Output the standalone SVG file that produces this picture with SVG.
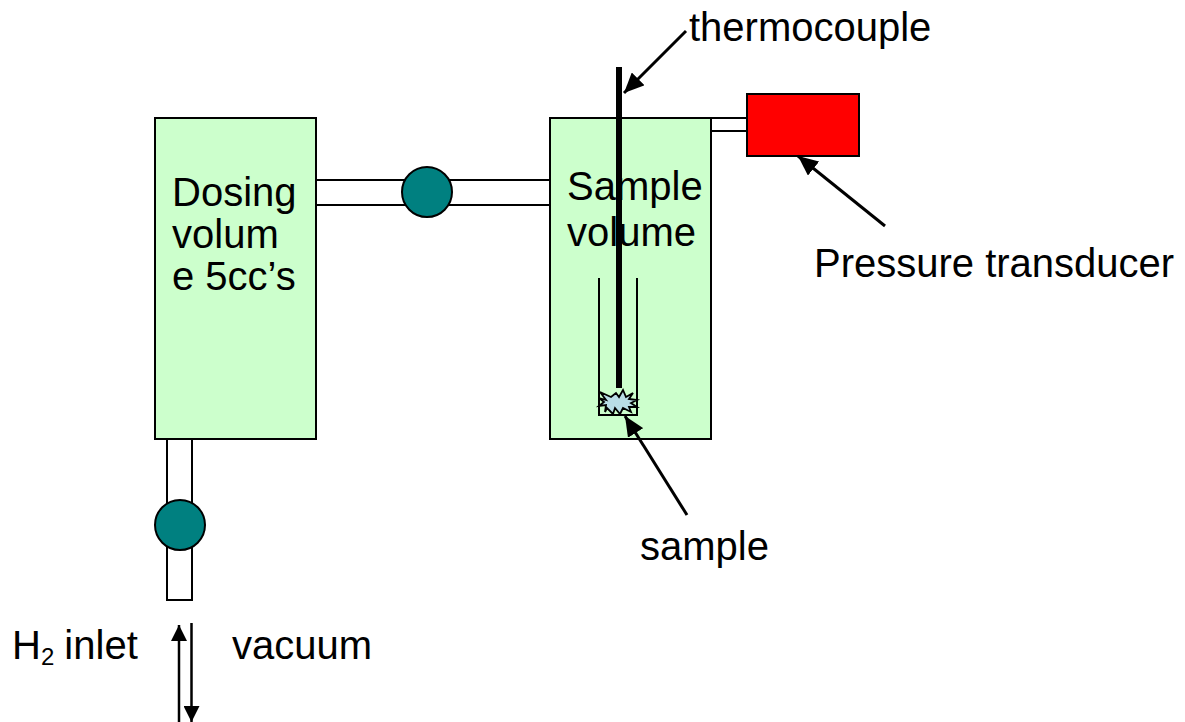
<svg xmlns="http://www.w3.org/2000/svg" width="1185" height="722" viewBox="0 0 1185 722">
<style>
.box{fill:#ccffcc;stroke:#000;stroke-width:2}
.pipe{fill:#fff;stroke:#000;stroke-width:2}
.valve{fill:#008080;stroke:#000;stroke-width:2}
.ln{fill:none;stroke:#000;stroke-width:2}
.ar{fill:none;stroke:#000;stroke-width:3;marker-end:url(#ah)}
.av{fill:none;stroke:#000;stroke-width:2.5;marker-end:url(#ahv)}
text{font-family:"Liberation Sans",Arial,sans-serif;font-size:40px;fill:#000}
</style>
<defs>
<marker id="ah" markerUnits="userSpaceOnUse" markerWidth="22" markerHeight="18" refX="20" refY="9" orient="auto"><path d="M0,0L20,9L0,18Z" fill="#000"/></marker>
<marker id="ahv" markerUnits="userSpaceOnUse" markerWidth="18" markerHeight="16" refX="16" refY="8" orient="auto"><path d="M0,0L16,8L0,16Z" fill="#000"/></marker>
</defs>
<rect width="1185" height="722" fill="#fff"/>
<g id="pipes">
<rect class="pipe" x="315" y="180" width="235" height="25"/>
<rect class="pipe" x="711" y="118" width="37" height="13"/>
<rect class="pipe" x="167" y="439" width="25" height="161"/>
</g>
<g id="dosing-volume">
<rect class="box" x="155" y="118" width="161" height="321"/>
<text x="172" y="206">Dosing</text>
<text x="172" y="248">volum</text>
<text x="172" y="290">e 5cc’s</text>
</g>
<g id="sample-volume">
<rect class="box" x="550" y="118" width="161" height="321"/>
<text x="567" y="200">Sample</text>
<text x="567" y="246">volume</text>
<path class="ln" d="M599,278V415H637V278"/>
</g>
<g id="sample">
<path d="M600,392L611,397L616,393L619,397L623,390L626,397L633,393L629,399L637,400L631,403L637,407L629,407L631,412L623,408L620,414L615,408L613,414L607,408L605,412L606,405L599,406L604,402L599,398L606,400Z" fill="#b9dde6" stroke="#000" stroke-width="1.8"/>
</g>
<g id="thermocouple-rod">
<rect x="616" y="67" width="6" height="321" fill="#000"/>
</g>
<g id="pressure-transducer">
<rect x="747" y="94" width="112" height="62" fill="#f00" stroke="#000" stroke-width="2"/>
</g>
<g id="valve-1"><circle class="valve" cx="427" cy="192" r="25"/></g>
<g id="valve-2"><circle class="valve" cx="180" cy="525" r="25"/></g>
<g id="connectors">
<path class="ar" d="M686,31L624,93"/>
<path class="ar" d="M885,226L798,156"/>
<path class="ar" d="M687,515L625,416"/>
<path class="av" d="M179,722V625"/>
<path class="av" d="M191.500,623V722"/>
</g>
<g id="labels">
<text x="689" y="41">thermocouple</text>
<text x="814" y="277">Pressure transducer</text>
<text x="640" y="560">sample</text>
<text x="12" y="659">H<tspan font-size="24" dy="6">2</tspan><tspan dy="-6" dx="-1"> inlet</tspan></text>
<text x="232" y="659">vacuum</text>
</g>
</svg>
